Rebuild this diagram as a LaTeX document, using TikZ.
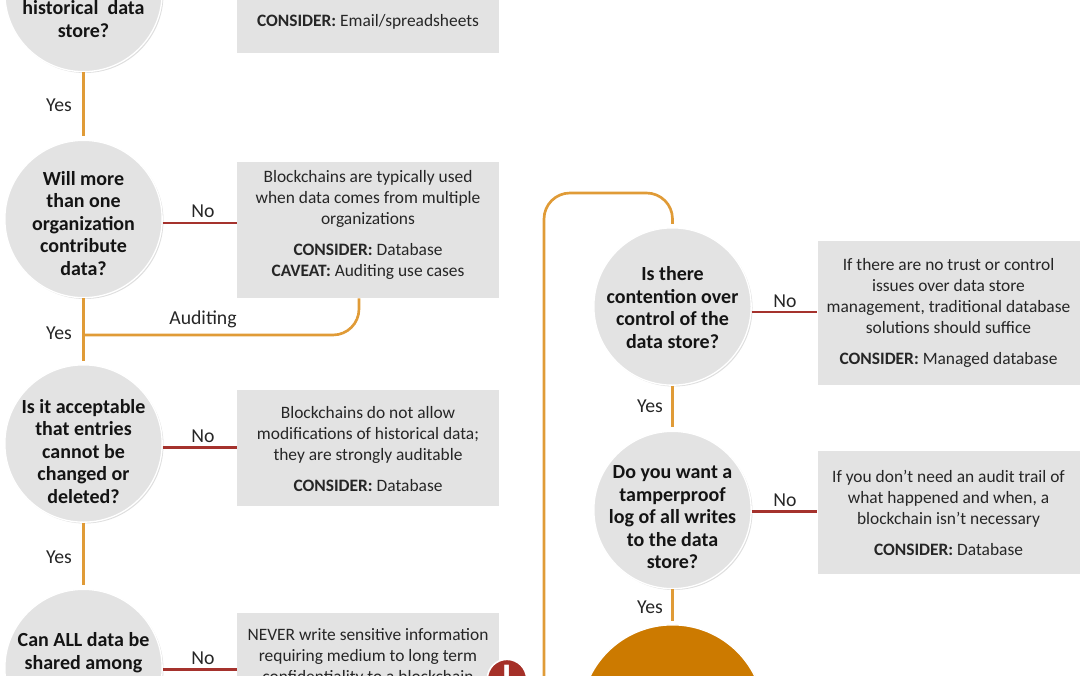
\documentclass[tikz,border=0pt]{standalone}
\usepackage{fontspec}
\setmainfont{Carlito}
\usepackage{xcolor}
\usepackage{tikz}
\usetikzlibrary{positioning,shadows}
\definecolor{qgrey}{RGB}{227,227,227}
\definecolor{yesclr}{RGB}{224,155,55}
\definecolor{noclr}{RGB}{165,50,45}
\definecolor{endclr}{RGB}{204,122,0}
\definecolor{warnclr}{RGB}{165,48,40}
\tikzset{
  quest/.style={circle,fill=qgrey,draw=white,line width=1pt,
                minimum size=118pt,inner sep=0pt,
                drop shadow={shadow xshift=1pt,shadow yshift=-1pt,
                             fill=black,opacity=0.13}},
  endq/.style={quest,fill=endclr,minimum size=137.5pt},
  note/.style={rectangle,fill=qgrey,minimum width=196.5pt,inner sep=0pt},
  notetxt/.style={align=center,inner sep=0pt,text=black!85,
                  font=\fontsize{13.05}{15.75}\selectfont},
  questtxt/.style={align=center,inner sep=0pt,text=black!92,
                   font=\fontsize{15}{16.85}\selectfont\bfseries},
  lbl/.style={inner sep=0pt,text=black!85,font=\fontsize{14.8}{16}\selectfont},
  yeslink/.style={draw=yesclr,line width=2pt,shorten >=2.5pt},
  nolink/.style={draw=noclr,line width=2pt},
}

\begin{document}
\begin{tikzpicture}[x=0.75pt, y=-0.75pt]
\useasboundingbox (0,0) rectangle (1080,675);

% ── left column, questions
\node[quest] (q1) at (83.5,-7) {};
\node[quest] (q2) at (83.5,219) {};
\node[quest] (q3) at (83.5,443.5) {};
\node[quest] (q4) at (83.5,668) {};
\node[questtxt] (q1t) at (83.5,19) {historical\ \ data\\store?};
\node[questtxt] (q2t) at (83.5,223.5) {Will more\\than one\\organization\\contribute\\data?};
\node[questtxt] (q3t) at (83.5,451.5) {Is it acceptable\\that entries\\cannot be\\changed or\\deleted?};
\node[questtxt] (q4t) at (83.5,652.5) {Can ALL data be\\shared among};

% ── left column, answers
\node[note,minimum height=109.5pt] (a1) at (368,-20) {};
\node[note,minimum height=102pt] (a2) at (368,230) {};
\node[note,minimum height=87pt] (a3) at (368,448) {};
\node[note,minimum height=139.5pt] (a4) at (368,706) {};
\node[notetxt] (a1t) at (368,22) {\textbf{CONSIDER:} Email/spreadsheets};
\node[notetxt] (a2t) at (368,225) {Blockchains are typically used\\when data comes from multiple\\organizations\\[7.5pt]\textbf{CONSIDER:} Database\\\textbf{CAVEAT:} Auditing use cases};
\node[notetxt] (a3t) at (368,449) {Blockchains do not allow\\modifications of historical data;\\they are strongly auditable\\[7.5pt]\textbf{CONSIDER:} Database};
\node[notetxt] (a4t) at (368,657) {NEVER write sensitive information\\requiring medium to long term\\confidentiality to a blockchain};

% ── warning mark
\node[circle,fill=warnclr,draw=white,line width=1.2pt,minimum size=29.5pt,inner sep=0pt,
      text=white,font=\fontsize{30}{30}\selectfont\bfseries] (warn) at (507,679) {!};

% ── right column
\node[quest] (q5) at (672.5,306.5) {};
\node[quest] (q6) at (672.5,510) {};
\node[endq] (q7) at (672.5,716.5) {};
\node[questtxt] (q5t) at (672.5,307.5) {Is there\\contention over\\control of the\\data store?};
\node[questtxt] (q6t) at (672.5,517.5) {Do you want a\\tamperproof\\log of all writes\\to the data\\store?};
\node[note,minimum height=108pt] (a5) at (948.5,313) {};
\node[note,minimum height=92.25pt] (a6) at (948.5,512.5) {};
\node[notetxt] (a5t) at (948.5,312.5) {If there are no trust or control\\issues over data store\\management, traditional database\\solutions should suffice\\[7.5pt]\textbf{CONSIDER:} Managed database};
\node[notetxt] (a6t) at (948.5,513) {If you don’t need an audit trail of\\what happened and when, a\\blockchain isn’t necessary\\[7.5pt]\textbf{CONSIDER:} Database};

% ── free ends of the two long links
\coordinate (auditjoin) at (83.5,335);
\coordinate (loopfoot) at (544,680);
\coordinate (looptop) at (600,193);

% ── links
\draw[yeslink] (q1) -- (q2);
\draw[yeslink] (q2) -- (q3);
\draw[yeslink] (q3) -- (q4);
\draw[yeslink] (q5) -- (q6);
\draw[yeslink] (q6) -- (q7);
\draw[yeslink,shorten >=0pt,rounded corners=19.5pt] ([xshift=-6.75pt]a2.south) |- (auditjoin);
\draw[yeslink,rounded corners=19.5pt] (loopfoot) |- (looptop) -| (q5);
\draw[nolink] (q2.-3.3) -- (q2.-3.3 -| a2.west);
\draw[nolink] (q3.-3.3) -- (q3.-3.3 -| a3.west);
\draw[nolink] (q4.-1.5) -- (q4.-1.5 -| a4.west);
\draw[nolink] (q5.-4) -- (q5.-4 -| a5.west);
\draw[nolink] (q6.-1.5) -- (q6.-1.5 -| a6.west);

% ── link labels
\node[lbl] (y1) at (59,105) {Yes};
\node[lbl] (y2) at (59,333) {Yes};
\node[lbl] (y3) at (59,557.5) {Yes};
\node[lbl] (y5) at (650,406) {Yes};
\node[lbl] (y6) at (650,607) {Yes};
\node[lbl] (n2) at (203,211.5) {No};
\node[lbl] (n3) at (203,436) {No};
\node[lbl] (n4) at (203,658.5) {No};
\node[lbl] (n5) at (785,301) {No};
\node[lbl] (n6) at (785,500) {No};
\node[lbl] (audit) at (203,319.5) {Auditing};

\end{tikzpicture}
\end{document}
